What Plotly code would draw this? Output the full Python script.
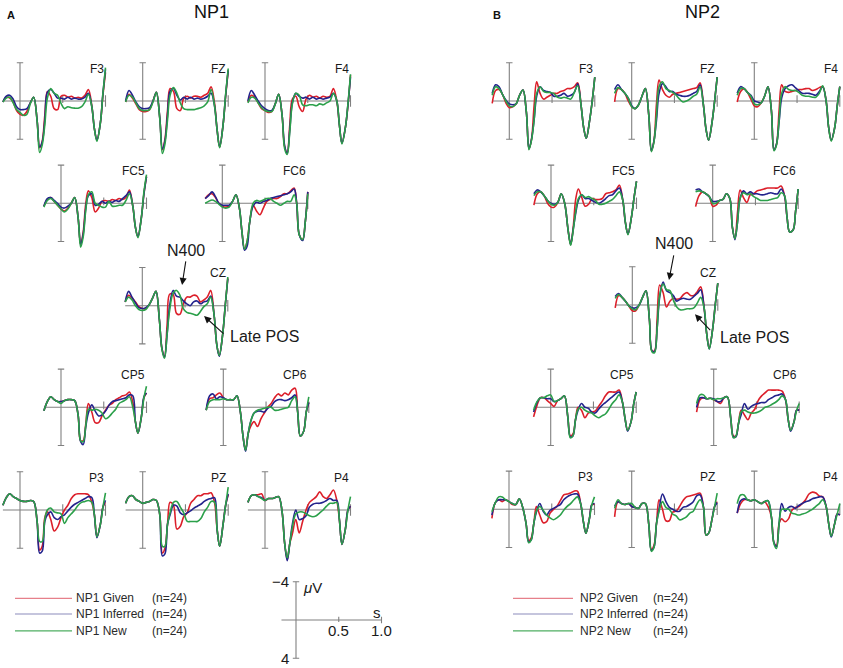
import plotly.graph_objects as go

W, H = 843, 668
KX = 85.5   # px per second
KY = 9.55   # px per microvolt

# sample times (s)
time_s = [-0.2, -0.16, -0.12, -0.08, -0.04, 0.0, 0.04, 0.08, 0.12, 0.16, 0.2, 0.23, 0.26, 0.29, 0.32,
          0.36, 0.4, 0.44, 0.48, 0.52, 0.56, 0.6, 0.64, 0.68, 0.72, 0.76, 0.8, 0.84, 0.87, 0.9, 0.94, 0.97, 1.0]

electrodes = ["F3", "FZ", "F4", "FC5", "FC6", "CZ", "CP5", "CP6", "P3", "PZ", "P4"]
conditions = ["Given", "Inferred", "New"]

# ---- NP1 (microvolts, negative up) ----
np1_f3_given = [0.1,-0.4,-0.3,0.1,1.0, 1.4,1.5,1.1,0.2,-0.4, 2.0,4.9,4.2,1.5,-1.0, -0.5,0.8,0.9,-0.5,-0.6, -0.4,-0.5,-0.3,-0.4,-0.3, -0.6,-1.2,0.5,2.9,4.1, 2.3,-0.6,-3.0]
np1_f3_inferred = [0.1,-0.5,-0.6,-0.2,0.6, 0.9,0.9,0.8,0.2,-0.4, 2.0,4.8,4.3,2.0,-0.9, -1.2,-0.8,-0.3,-0.3,-0.2, -0.4,-0.2,-0.3,-0.2,-0.2, -0.4,-0.8,0.6,2.9,4.1, 2.3,-0.8,-3.3]
np1_f3_new = [0.1,-0.3,-0.4,0.2,0.9, 1.2,1.5,1.4,0.3,-0.4, 2.1,5.4,4.6,2.5,-0.3, -1.3,-0.8,-0.6,0.25,0.8, 0.6,0.7,0.75,0.75,0.6, 0.1,-0.7,0.6,2.9,4.2, 2.3,-0.8,-3.5]

np1_fz_given = [0.1,-0.7,-0.3,0.3,0.9, 1.1,1.1,0.9,0.0,-0.9, 1.8,5.1,4.0,1.0,-1.3, -1.0,0.8,1.0,-0.3,-0.5, -0.3,-0.5,-0.5,-0.4,-0.6, -0.8,-1.5,0.2,3.0,4.8, 2.5,-0.5,-3.2]
np1_fz_inferred = [0.0,-1.1,-0.6,0.1,0.6, 0.8,0.8,0.7,0.0,-0.9, 1.8,5.0,4.2,1.5,-1.0, -1.3,-0.6,-0.1,-0.4,-0.2, -0.4,-0.2,-0.3,-0.2,-0.3, -0.5,-0.8,0.5,3.0,4.8, 2.5,-0.6,-3.2]
np1_fz_new = [0.1,-0.6,-0.4,0.2,0.8, 1.0,1.0,0.9,0.1,-0.9, 1.9,5.5,4.5,2.0,-0.6, -1.4,-0.8,0.2,0.8,0.9, 0.9,0.9,0.8,0.7,0.5, 0.1,-1.2,0.5,3.0,4.9, 2.5,-0.7,-3.4]

np1_f4_given = [0.1,-0.6,-0.4,0.2,0.8, 1.0,1.2,1.1,0.3,-0.7, 1.5,4.8,5.4,2.5,-0.2, -0.5,0.6,1.1,-0.2,-0.6, -0.4,-0.5,-0.3,-0.5,-0.4, -0.5,-1.3,0.0,2.5,4.4, 2.8,0.5,-2.7]
np1_f4_inferred = [0.0,-1.1,-0.6,0.0,0.5, 0.8,1.0,1.0,0.3,-0.7, 1.5,4.7,5.5,3.0,0.2, -0.8,-0.5,-0.3,-0.4,-0.2, -0.4,-0.2,-0.3,-0.2,-0.3, -0.4,-0.8,0.0,2.5,4.4, 2.8,0.4,-2.5]
np1_f4_new = [0.2,-0.4,-0.3,0.2,0.7, 1.0,1.1,1.1,0.3,-0.7, 1.5,5.0,5.6,3.2,0.3, -0.8,-0.6,0.4,0.5,0.4, 0.4,0.5,0.3,0.4,0.2, 0.0,-0.8,0.0,2.5,4.5, 2.8,0.3,-2.8]

np1_fc5_given = [0.3,-0.4,-0.6,-0.2,0.2, 0.6,0.8,0.5,0.0,-0.6, 1.5,4.3,3.0,0.0,-1.3, -0.6,0.9,0.5,-0.2,-0.3, -0.2,-0.4,-0.3,-0.5,-0.4, -0.6,-1.4,0.3,2.5,3.5, 1.5,-1.0,-2.8]
np1_fc5_inferred = [0.3,-0.5,-0.6,-0.3,0.0, 0.4,0.5,0.3,0.0,-0.6, 1.5,4.3,3.2,0.5,-0.8, -1.0,0.2,0.1,-0.2,0.0, -0.2,-0.1,-0.3,-0.2,-0.5, -0.8,-1.2,0.3,2.5,3.5, 1.5,-1.0,-2.8]
np1_fc5_new = [0.4,-0.3,-0.5,-0.2,0.2, 0.6,0.9,0.6,0.0,-0.6, 1.5,4.6,3.5,0.7,-0.9, -1.2,0.0,0.2,0.4,0.4, -0.2,0.3,0.3,0.2,0.2, -0.3,-1.0,0.3,2.5,3.6, 1.5,-1.2,-3.0]

np1_fc6_given = [-0.5,-0.9,-1.0,-0.6,0.0, 0.3,0.4,0.3,-0.2,-0.9, 0.5,3.0,4.8,4.0,2.0, 0.2,0.8,1.2,0.5,-0.2, -0.4,-0.5,-0.5,-0.7,-1.0, -1.0,-1.3,-1.6,0.0,3.3, 3.8,2.0,-1.2]
np1_fc6_inferred = [-0.5,-0.8,-1.2,-0.7,0.0, 0.2,0.2,0.2,-0.2,-0.9, 0.5,3.0,4.9,4.5,2.0, 0.3,-0.1,0.0,-0.2,-0.3, -0.5,-0.6,-0.7,-0.8,-0.9, -1.0,-1.2,-1.5,0.0,3.3, 3.9,2.0,-1.2]
np1_fc6_new = [0.0,-0.2,-0.35,-0.2,0.1, 0.4,0.5,0.4,-0.2,-0.9, 0.5,3.0,4.8,4.0,2.0, 0.0,-0.3,-0.2,-0.35,-0.5, -0.5,-0.2,0.0,0.2,0.0, -0.2,-0.2,-0.9,0.0,3.3, 3.8,2.0,-1.0]

np1_cz_given = [-0.4,-1.1,-0.8,-0.4,0.1, 0.3,0.3,-0.1,-0.8,-1.5, 1.5,4.5,5.3,2.0,-1.2, -1.2,0.8,0.9,-0.2,-0.9, -0.9,-1.1,-1.0,-0.4,-0.6, -0.9,-1.6,1.0,4.0,5.2, 3.0,0.0,-2.9]
np1_cz_inferred = [-0.4,-1.5,-0.9,-0.3,0.2, 0.3,0.2,-0.1,-0.8,-1.5, 1.5,4.5,5.4,3.0,0.0, -1.6,-1.0,-0.9,-0.5,-0.2, 0.0,-0.4,-0.5,-0.2,-0.4, -0.5,-1.0,1.0,4.0,5.3, 3.0,0.0,-2.8]
np1_cz_new = [-0.4,-0.9,-0.6,0.0,0.4, 0.5,0.4,-0.1,-0.8,-1.5, 1.5,4.6,5.5,3.0,0.5, -1.3,-1.6,-1.1,0.3,0.7, 0.8,0.9,1.0,0.6,0.1, -0.2,-0.9,1.0,4.0,5.2, 3.0,0.0,-3.0]

np1_cp5_given = [0.35,-0.6,-1.1,-0.8,-0.6, -0.6,-0.7,-0.8,-0.8,-0.7, 0.8,3.5,3.5,1.7,-0.4, 0.5,1.6,1.6,0.9,0.3, -0.2,-0.4,-0.8,-1.0,-1.2, -1.3,-1.6,-0.5,1.5,2.7, 1.0,-1.0,-1.5]
np1_cp5_inferred = [0.35,-0.6,-1.1,-0.8,-0.6, -0.6,-0.7,-0.8,-0.8,-0.7, 0.8,3.6,3.9,2.0,0.6, -0.25,0.4,0.9,0.8,0.4, -0.2,-0.6,-0.7,-0.8,-0.9, -1.0,-1.3,-1.2,1.5,2.7, 1.0,-1.1,-1.5]
np1_cp5_new = [0.35,-0.6,-1.1,-0.8,-0.6, -0.4,-0.7,-0.8,-0.8,-0.7, 0.8,3.5,3.6,1.9,0.2, 0.3,0.2,0.3,0.6,1.2, 1.0,0.6,0.2,-0.4,-0.6, -0.8,-1.1,0.0,1.5,2.7, 1.0,-1.0,-2.2]

np1_cp6_given = [0.3,-0.9,-1.0,-1.3,-1.5, -1.0,-0.8,-0.8,-0.8,-1.2, 0.5,3.0,4.5,2.8,2.0, 1.5,2.0,1.2,0.6,0.0, -0.4,-1.0,-1.4,-1.2,-1.5, -1.3,-1.8,-2.0,0.5,3.0, 2.5,0.5,-0.5]
np1_cp6_inferred = [0.3,-1.2,-1.4,-0.9,-1.1, -1.0,-0.8,-0.8,-0.8,-1.2, 0.5,3.0,4.6,2.8,1.5, 0.6,0.4,0.4,0.5,0.1, -0.1,-0.6,-0.8,-0.8,-0.7, -0.8,-1.0,-1.3,0.5,3.0, 2.5,0.5,-0.5]
np1_cp6_new = [0.3,-0.6,-0.8,-0.8,-0.8, -0.9,-0.8,-0.8,-0.8,-1.2, 0.5,3.0,4.5,2.8,1.5, 0.6,0.3,0.2,0.1,0.0, 0.0,0.3,0.3,0.2,0.1, 0.0,-0.7,-1.1,0.5,3.0, 2.5,0.5,-1.1]

np1_p3_given = [-0.5,-1.3,-1.7,-1.4,-1.2, -1.0,-0.9,-0.9,-1.0,-0.9, 1.2,4.2,3.8,0.8,0.2, 1.0,2.2,1.8,0.8,0.0, -0.5,-1.2,-1.6,-1.7,-1.7, -1.7,-1.6,-0.8,0.5,2.8, 1.5,-0.3,-0.8]
np1_p3_inferred = [-0.5,-1.3,-1.7,-1.4,-1.2, -1.0,-0.9,-0.9,-1.0,-0.9, 1.2,4.5,4.3,1.2,0.5, 0.2,0.8,1.0,0.7,0.5, 0.1,-0.3,-0.6,-0.8,-1.0, -1.2,-1.4,-1.3,0.5,2.9, 1.5,-0.3,-1.0]
np1_p3_new = [-0.5,-1.3,-1.7,-1.4,-1.2, -1.0,-0.9,-0.9,-1.0,-0.9, 1.2,3.3,3.3,1.0,0.0, -0.2,0.2,0.3,0.4,1.4, 0.8,0.4,0.0,-0.5,-0.8, -0.9,-1.0,-0.8,0.5,2.8, 1.5,-0.3,-1.8]

np1_pz_given = [-0.7,-1.4,-1.5,-1.1,-0.9, -0.7,-0.8,-0.9,-1.1,-1.0, 0.5,4.5,4.0,1.5,-0.8, -0.5,2.0,1.7,0.7,0.3, -0.7,-1.1,-1.5,-1.5,-1.7, -1.7,-1.8,-0.8,2.0,3.8, 1.5,-0.5,-1.6]
np1_pz_inferred = [-0.7,-1.4,-1.5,-1.1,-0.9, -0.7,-0.8,-0.9,-1.1,-1.0, 0.5,4.8,4.6,1.5,0.5, -0.5,-0.4,0.3,0.5,0.3, 0.1,-0.2,-0.4,-0.6,-0.9, -1.1,-1.2,-1.3,2.0,3.8, 1.5,-0.5,-1.7]
np1_pz_new = [-0.7,-1.4,-1.5,-1.1,-0.9, -0.7,-0.8,-0.9,-1.1,-1.0, 0.5,3.8,3.8,1.5,0.3, -0.8,-0.9,-0.3,0.3,1.2, 1.2,1.2,1.2,0.9,0.2, -0.3,-0.9,-0.8,2.0,3.8, 1.5,-0.5,-2.4]

np1_p4_given = [-0.8,-1.5,-1.6,-1.6,-1.7, -1.0,-1.2,-1.2,-1.3,-1.4, 0.2,3.5,5.2,3.5,2.5, 1.0,2.4,1.2,0.0,-0.8, -1.1,-1.4,-1.9,-1.4,-1.2, -1.6,-2.1,-1.0,1.0,3.6, 2.0,0.0,-0.4]
np1_p4_inferred = [-0.8,-1.5,-1.6,-1.4,-1.3, -1.0,-1.2,-1.2,-1.3,-1.4, 0.2,3.5,5.3,3.5,1.5, 0.0,1.0,0.9,0.6,-0.3, -0.6,-0.7,-0.7,-0.8,-1.0, -1.2,-1.0,-1.0,1.0,3.6, 2.0,0.0,-0.4]
np1_p4_new = [-0.8,-1.5,-1.6,-1.4,-1.2, -1.0,-1.2,-1.2,-1.3,-1.4, 0.2,3.5,5.0,3.5,1.8, 0.4,0.2,0.2,0.4,0.6, 0.7,0.6,0.3,0.0,-0.4, -0.7,-0.7,-0.8,1.0,3.6, 2.0,0.0,-1.4]

# ---- NP2 ----
np2_f3_given = [0.25,-1.1,-1.2,-0.7,0.2, 0.7,0.6,0.3,-0.6,-1.15, 1.2,5.0,4.0,0.5,-2.0, -0.8,-0.2,-0.4,-0.6,-0.8, -0.8,-1.0,-1.1,-1.3,-1.3, -1.5,-1.9,0.5,2.8,3.9, 2.0,0.0,-2.5]
np2_f3_inferred = [-0.8,-1.7,-1.5,-0.7,-0.1, 0.3,0.4,0.3,-0.6,-1.15, 1.2,5.0,4.0,2.0,-0.5, -1.5,-1.1,-1.0,-0.9,-0.5, -0.5,-0.6,-0.8,-0.5,-0.6, -0.9,-1.8,0.5,2.8,3.9, 2.0,0.0,-2.5]
np2_f3_new = [-0.6,-1.5,-1.3,-0.7,0.0, 0.5,0.6,0.3,-0.6,-1.15, 1.2,5.1,4.1,2.0,-0.8, -1.5,-1.0,-0.9,-0.9,-0.8, -0.4,-0.3,-0.4,-0.3,-0.2, -0.9,-1.6,0.5,2.8,3.9, 2.0,0.0,-2.5]

np2_fz_given = [0.1,-1.3,-1.2,-0.8,0.0, 0.6,0.8,0.4,-0.5,-1.3, 1.5,5.2,4.2,0.3,-2.2, -1.2,-0.6,-0.4,-0.7,-0.8, -0.9,-1.0,-1.1,-1.2,-1.3, -1.4,-1.9,0.5,3.0,4.1, 2.2,0.0,-2.5]
np2_fz_inferred = [-1.2,-1.7,-1.2,-0.8,-0.3, 0.5,0.8,0.4,-0.5,-1.3, 1.5,5.2,4.2,2.0,-0.8, -1.8,-1.5,-1.0,-1.0,-0.7, -0.6,-0.5,-0.5,-0.6,-0.8, -1.0,-1.7,0.5,3.0,4.1, 2.2,0.0,-2.5]
np2_fz_new = [-0.8,-1.4,-1.2,-0.8,-0.3, 0.6,0.8,0.4,-0.5,-1.3, 1.5,5.3,4.3,1.5,-1.5, -2.0,-1.3,-1.1,-0.9,-0.6, -0.2,0.1,0.0,-0.2,-0.5, -0.7,-1.5,0.5,3.0,4.1, 2.2,0.0,-2.5]

np2_f4_given = [0.1,-1.0,-1.3,-0.9,-0.2, 0.5,0.6,0.2,-0.5,-1.5, 1.0,5.1,4.5,1.0,-1.7, -1.0,-0.9,-1.0,-1.1,-1.2, -1.2,-1.3,-1.3,-1.1,-1.2, -1.4,-1.5,0.0,2.8,4.1, 2.8,0.5,-1.5]
np2_f4_inferred = [-0.8,-1.5,-1.3,-0.9,-0.6, 0.0,0.1,0.2,-0.5,-1.5, 1.0,5.1,4.5,2.2,-0.3, -1.3,-1.6,-1.7,-1.4,-1.1, -0.8,-0.8,-0.8,-0.7,-0.6, -1.0,-1.5,0.0,2.8,4.1, 2.8,0.5,-1.5]
np2_f4_new = [-0.6,-1.3,-1.3,-0.9,-0.5, 0.3,0.4,0.2,-0.5,-1.5, 1.0,5.2,4.6,2.0,-0.8, -1.5,-1.2,-1.1,-1.1,-0.9, -0.6,-0.5,-0.5,-0.4,-0.4, -0.8,-1.6,0.0,2.8,4.2, 2.8,0.5,-1.5]

np2_fc5_given = [0.2,-1.0,-1.2,-0.8,0.0, 0.4,0.4,-0.1,-1.0,0.0, 2.8,4.3,2.5,-0.5,-1.5, -0.6,0.3,0.1,-0.5,-0.4, -0.4,-0.5,-1.0,-1.1,-1.2, -1.4,-1.9,-0.3,2.0,3.2, 1.5,-0.5,-2.3]
np2_fc5_inferred = [-1.0,-1.4,-1.2,-0.8,-0.3, 0.0,0.1,-0.1,-1.0,0.0, 2.8,4.3,2.7,1.0,-0.3, -0.9,-0.5,-0.5,-0.3,-0.1, 0.0,-0.2,-0.5,-0.8,-0.9, -1.3,-1.6,-0.3,2.0,3.2, 1.5,-0.5,-2.3]
np2_fc5_new = [-0.8,-1.2,-1.2,-0.8,-0.3, 0.1,0.2,-0.1,-1.0,0.0, 2.8,4.4,2.8,0.8,-0.5, -0.9,-0.6,-0.7,-0.5,-0.3, 0.1,0.1,0.0,-0.2,-0.4, -0.8,-1.2,-0.3,2.0,3.3, 1.5,-0.5,-2.3]

np2_fc6_given = [0.35,-0.8,-1.2,-1.0,-0.7, 0.3,0.2,-0.3,-0.4,-1.0, -0.5,2.5,3.7,1.0,-1.4, -0.6,-0.1,-0.9,-1.0,-1.3, -1.4,-1.5,-1.6,-1.6,-1.6, -1.6,-1.8,-0.8,1.5,3.0, 2.8,0.8,-1.5]
np2_fc6_inferred = [-1.4,-1.5,-1.2,-1.0,-0.7, -0.2,-0.2,-0.3,-0.4,-1.0, -0.5,2.5,3.8,2.0,-0.5, -1.3,-1.0,-1.2,-1.0,-1.0, -0.9,-0.9,-1.0,-1.1,-1.0, -1.0,-1.5,-0.8,1.5,3.0, 2.8,0.8,-1.5]
np2_fc6_new = [-1.2,-1.3,-1.2,-1.0,-0.7, 0.0,0.0,-0.3,-0.4,-1.0, -0.5,2.5,3.7,2.0,-0.5, -1.1,-0.9,-1.0,-0.7,-0.5, -0.3,-0.3,-0.3,-0.4,-0.5, -0.6,-1.1,-0.8,1.5,3.0, 2.8,0.8,-1.5]

np2_cz_given = [0.3,-1.0,-0.8,-0.4,0.1, 0.6,0.6,0.0,-0.8,-1.5, 1.5,4.8,4.8,1.5,-2.1, -1.3,0.2,-0.4,-0.7,-0.6, -0.7,-1.1,-1.3,-1.0,-1.0, -1.4,-1.9,0.3,3.0,4.5, 2.5,0.0,-2.3]
np2_cz_inferred = [-0.9,-1.2,-0.8,-0.4,0.1, 0.3,0.3,0.0,-0.8,-1.5, 1.5,4.8,4.9,2.5,-0.8, -2.4,-1.5,-1.3,-1.0,-0.4, -0.6,-0.7,-0.6,-0.6,-0.9, -1.2,-1.6,0.3,3.0,4.6, 2.5,0.0,-2.3]
np2_cz_new = [-0.7,-1.1,-0.8,-0.4,0.1, 0.4,0.5,0.0,-0.8,-1.5, 1.5,4.9,5.0,2.5,-1.0, -2.2,-1.6,-1.5,-0.5,0.2, 0.5,0.5,0.4,0.4,0.3, -0.2,-0.8,0.3,3.0,4.6, 2.5,0.0,-2.3]

np2_cp5_given = [1.0,-0.2,-1.0,-1.0,-0.7, -0.4,-0.1,-0.7,-0.9,-1.2, 1.0,3.0,2.8,1.3,0.0, 0.3,1.1,0.6,0.5,0.4, -0.1,-0.6,-1.2,-1.6,-1.6, -1.6,-1.8,-0.5,1.2,2.4, 1.5,-0.3,-1.6]
np2_cp5_inferred = [0.5,-0.5,-1.0,-1.0,-0.9, -0.9,-0.6,-0.7,-0.9,-1.2, 1.0,3.1,3.0,1.3,0.3, -0.4,0.0,0.1,0.5,0.6, 0.2,-0.2,-0.5,-0.8,-1.1, -1.4,-1.6,-0.5,1.2,2.5, 1.5,-0.3,-1.6]
np2_cp5_new = [0.3,-0.6,-1.0,-1.0,-1.2, -1.3,-0.6,-0.7,-0.9,-1.2, 1.0,3.2,3.0,1.3,0.2, 0.0,0.3,0.5,0.6,0.9, 1.1,0.9,0.7,0.2,-0.4, -0.8,-1.3,-0.5,1.2,2.4, 1.5,-0.3,-1.6]

np2_cp6_given = [0.5,-0.8,-1.0,-0.9,-0.95, -0.8,-0.6,-0.4,-1.0,-1.1, 1.2,3.0,3.0,1.7,0.3, 0.8,1.3,0.6,0.2,-0.7, -1.2,-1.5,-1.8,-1.8,-1.8, -1.8,-1.7,-0.8,1.2,2.4, 1.5,0.3,0.3]
np2_cp6_inferred = [0.0,-1.0,-1.0,-0.9,-0.95, -0.9,-0.6,-0.6,-1.0,-1.1, 1.2,3.1,3.1,1.7,0.8, -0.4,0.2,-0.1,-0.3,-0.4, -0.5,-0.5,-0.8,-1.0,-1.2, -1.3,-1.4,-0.8,1.2,2.5, 1.5,0.3,0.3]
np2_cp6_new = [-0.4,-1.3,-1.3,-0.9,-0.95, -0.8,-0.9,-0.9,-1.0,-1.1, 1.2,3.2,3.0,1.7,0.5, 0.3,0.5,0.6,0.6,0.5, 0.3,0.0,-0.1,-0.3,-0.5, -0.8,-1.2,-0.8,1.2,2.4, 1.5,0.3,-0.4]

np2_p3_given = [0.95,-0.7,-1.0,-0.8,-1.0, -0.8,-0.5,-0.5,-1.1,-0.2, 1.5,3.3,3.0,1.5,-0.3, 0.6,1.4,1.3,0.4,0.0, -0.3,-0.9,-1.5,-1.6,-1.7, -1.9,-1.9,-0.5,1.3,2.5, 1.0,-0.5,-0.5]
np2_p3_inferred = [0.6,-0.7,-1.0,-1.0,-1.0, -0.8,-0.6,-0.5,-1.1,-0.2, 1.5,3.4,3.2,1.5,0.3, -0.6,0.2,0.6,0.1,-0.1, -0.3,-0.5,-1.0,-1.3,-1.5, -1.6,-1.6,-0.5,1.3,2.5, 1.0,-0.5,-0.6]
np2_p3_new = [0.25,-0.7,-1.3,-1.3,-1.0, -0.8,-0.6,-0.5,-1.1,-0.2, 1.5,3.5,3.2,1.5,0.2, -0.3,0.1,0.6,0.9,1.1, 0.9,0.6,0.1,-0.3,-0.6, -1.0,-1.3,-0.5,1.3,2.5, 1.0,-0.5,-1.3]

np2_pz_given = [0.8,-0.8,-0.6,-0.5,-0.6, -0.3,-0.2,-0.1,-0.6,-0.6, 1.6,4.2,3.8,1.5,-1.0, 0.0,1.2,1.2,0.3,0.2, -0.3,-0.9,-1.3,-1.4,-1.5, -1.6,-1.7,-0.2,2.7,2.5, 1.0,-0.3,-0.8]
np2_pz_inferred = [-0.3,-0.8,-0.6,-0.5,-0.6, -0.3,-0.2,-0.1,-0.6,-0.6, 1.6,4.3,4.0,1.5,0.0, -1.6,-0.8,-0.2,0.0,0.2, 0.2,-0.2,-0.3,-0.5,-0.8, -1.4,-1.5,-0.2,2.7,2.5, 1.0,-0.3,-0.7]
np2_pz_new = [-0.1,-1.0,-0.6,-0.5,-0.6, -0.6,-0.2,-0.1,-0.6,-0.6, 1.6,4.4,4.0,1.5,0.2, -0.8,-0.2,0.0,0.5,0.7, 1.1,1.0,0.8,0.4,0.2, -0.5,-1.0,-0.2,2.7,2.5, 1.0,-0.3,-1.7]

np2_p4_given = [0.4,-0.6,-1.0,-1.0,-0.9, -1.0,-0.8,-0.6,-0.8,-0.3, 0.8,3.5,3.8,1.5,1.0, 1.3,1.0,0.1,-0.2,-0.3, -0.6,-1.0,-1.6,-1.8,-1.7, -1.4,-1.3,-0.3,1.5,2.8, 1.5,0.5,0.6]
np2_p4_inferred = [0.4,-0.9,-1.1,-1.0,-0.9, -1.0,-0.8,-0.6,-0.8,-0.9, 0.8,3.5,3.9,1.5,-0.6, 0.2,-0.2,-0.3,-0.1,-0.4, -0.6,-0.8,-0.9,-1.1,-1.2, -1.3,-1.3,-0.3,1.5,2.9, 1.5,0.5,0.6]
np2_p4_new = [-0.6,-1.5,-1.5,-1.0,-0.9, -1.0,-0.8,-0.6,-0.8,-0.9, 0.8,3.6,4.1,1.5,0.0, 0.0,0.0,0.4,0.5,0.6, 0.5,0.4,0.2,0.0,-0.3, -0.6,-1.0,-0.3,1.5,2.8, 1.5,0.5,-0.6]

n_subjects = 24

waves = {}
for np_name in ["np1", "np2"]:
    for el in electrodes:
        waves[(np_name.upper(), el)] = [globals()[f"{np_name}_{el.lower()}_{c.lower()}"] for c in conditions]

# pixel anchor (t=0, 0 µV) of every small plot
anchors = {
    "NP1": {"F3": (20, 101), "FZ": (142.7, 101), "F4": (265, 101),
            "FC5": (61, 203.3), "FC6": (222.3, 203.3), "CZ": (142.3, 305.7),
            "CP5": (61, 407.3), "CP6": (223.3, 407.3),
            "P3": (20, 510), "PZ": (142.7, 510), "P4": (265, 510)},
    "NP2": {"F3": (509.3, 101), "FZ": (631.7, 101), "F4": (754.3, 101),
            "FC5": (551, 203.3), "FC6": (712.7, 203.3), "CZ": (632.3, 305),
            "CP5": (550.7, 407.3), "CP6": (713.7, 407.3),
            "P3": (509, 509.3), "PZ": (631.7, 509.3), "P4": (754.3, 509.3)},
}

colors = ["#dc1f2a", "#23238c", "#2ba04a"]
legend_colors = ["#e6808a", "#8c8cbc", "#4fae62"]
axis_color = "#808080"
font_family = "Liberation Sans, Arial, sans-serif"

fig = go.Figure()
layout = {}
shapes = []
annotations = []


def px(p):
    return p / W


def py(p):
    return 1 - p / H


def ref(n):
    return ("x", "y") if n == 1 else (f"x{n}", f"y{n}")


def add_axes(n, x0, y0, xr=(-0.22, 1.06), yr=(6.5, -7.0)):
    left = max(0.0, x0 + xr[0] * KX)
    right = min(W, x0 + xr[1] * KX)
    top = max(0.0, y0 + yr[1] * KY)
    bottom = min(H, y0 + yr[0] * KY)
    xn = "xaxis" if n == 1 else f"xaxis{n}"
    yn = "yaxis" if n == 1 else f"yaxis{n}"
    xr_, yr_ = ref(n)
    layout[xn] = dict(domain=[left / W, right / W], range=[(left - x0) / KX, (right - x0) / KX],
                      visible=False, fixedrange=True, anchor=yr_)
    layout[yn] = dict(domain=[1 - bottom / H, 1 - top / H], range=[(bottom - y0) / KY, (top - y0) / KY],
                      visible=False, fixedrange=True, anchor=xr_)


def seg(n, xa, xb, ya, yb, color=axis_color, width=1.1):
    xr_, yr_ = ref(n)
    shapes.append(dict(type="line", xref=xr_, yref=yr_, x0=xa, x1=xb, y0=ya, y1=yb,
                       line=dict(color=color, width=width), layer="below"))


cap = 3.2 / KX
n = 0
for np_name in ["NP1", "NP2"]:
    for el in electrodes:
        n += 1
        x0, y0 = anchors[np_name][el]
        add_axes(n, x0, y0)
        xr_, yr_ = ref(n)
        # axis cross
        seg(n, 0, 0, -4, 4)
        seg(n, -cap, cap, -4, -4)
        seg(n, -cap, cap, 4, 4)
        seg(n, -0.2, 1.0, 0, 0)
        seg(n, 0.5, 0.5, -0.6, 0.2)
        seg(n, 1.0, 1.0, -0.6, 0.6)
        for vals, c, cond in zip(waves[(np_name, el)], colors, conditions):
            fig.add_trace(go.Scatter(x=time_s, y=vals, xaxis=xr_, yaxis=yr_, mode="lines",
                                     line=dict(color=c, width=1.6, shape="spline", smoothing=1.0),
                                     name=f"{np_name} {cond}", showlegend=False, hoverinfo="skip"))
        annotations.append(dict(xref=xr_, yref=yr_, x=1.0, y=-3.4, text=el, showarrow=False,
                                xanchor="right", yanchor="middle",
                                font=dict(size=12, color="#1a1a1a", family=font_family)))
        if el == "CZ":
            if np_name == "NP1":
                tip1, tail1, txt1 = (0.465, -2.16), (0.511, -4.79), (0.511, -5.73)
                tip2, tail2, txt2 = (0.722, 1.08), (0.967, 3.07), (1.0, 3.25)
            else:
                tip1, tail1, txt1 = (0.429, -2.62), (0.488, -5.36), (0.488, -6.39)
                tip2, tail2, txt2 = (0.733, 0.97), (0.928, 2.8), (1.003, 3.4)
            for tip, tail in [(tip1, tail1), (tip2, tail2)]:
                annotations.append(dict(xref=xr_, yref=yr_, axref=xr_, ayref=yr_,
                                        x=tip[0], y=tip[1], ax=tail[0], ay=tail[1], text="",
                                        showarrow=True, arrowhead=2, arrowsize=1.3,
                                        arrowwidth=1.1, arrowcolor="#111111"))
            annotations.append(dict(xref=xr_, yref=yr_, x=txt1[0], y=txt1[1], text="N400",
                                    showarrow=False, xanchor="center", yanchor="middle",
                                    font=dict(size=16, color="#1a1a1a", family=font_family)))
            annotations.append(dict(xref=xr_, yref=yr_, x=txt2[0], y=txt2[1], text="Late POS",
                                    showarrow=False, xanchor="left", yanchor="middle",
                                    font=dict(size=16, color="#1a1a1a", family=font_family)))

# calibration (scale) axes
n += 1
add_axes(n, 296, 620, xr=(-0.4, 1.25), yr=(5.5, -5.5))
xr_, yr_ = ref(n)
seg(n, 0, 0, -4, 4)
seg(n, -cap, cap, -4, -4)
seg(n, -cap, cap, 4, 4)
seg(n, -0.17, 1.0, 0, 0)
seg(n, 0.5, 0.5, -0.35, 0.2)
seg(n, 1.0, 1.0, -0.35, 0.35)
fig.add_trace(go.Scatter(x=[0], y=[0], xaxis=xr_, yaxis=yr_, mode="markers",
                         marker=dict(size=1, opacity=0), showlegend=False, hoverinfo="skip"))
scale_font = dict(size=15, color="#1a1a1a", family=font_family)
for x, y, t, xa in [(-0.06, -4, "\u22124", "right"), (-0.06, 4, "4", "right"),
                    (0.06, -3.4, "<i>\u03bc</i>V", "left"), (0.95, -0.8, "s", "center"),
                    (0.5, 1.15, "0.5", "center"), (1.0, 1.15, "1.0", "center")]:
    annotations.append(dict(xref=xr_, yref=yr_, x=x, y=y, text=t, showarrow=False,
                            xanchor=xa, yanchor="middle", font=scale_font))

# legends (one per half)
legend_geom = {"NP1": (15, 72, 73.5, 150), "NP2": (513, 573, 578, 651)}
legend_rows = [598.3, 614, 630.8]
legend_font = dict(size=12, color="#2a2a2a", family=font_family)
for np_name, (lx0, lx1, tx, nx) in legend_geom.items():
    for cond, lc, ly in zip(conditions, legend_colors, legend_rows):
        shapes.append(dict(type="line", xref="paper", yref="paper", x0=px(lx0), x1=px(lx1),
                           y0=py(ly), y1=py(ly), line=dict(color=lc, width=1.2)))
        annotations.append(dict(xref="paper", yref="paper", x=px(tx), y=py(ly),
                                text=f"{np_name} {cond}", showarrow=False, xanchor="left",
                                yanchor="middle", font=legend_font))
        annotations.append(dict(xref="paper", yref="paper", x=px(nx), y=py(ly),
                                text=f"(n={n_subjects})", showarrow=False, xanchor="left",
                                yanchor="middle", font=legend_font))

# panel titles and letters
for txt, tx, ty, size, bold in [("A", 11, 15.3, 11, True), ("NP1", 211.5, 11.7, 18, False),
                                ("B", 497, 15.3, 11, True), ("NP2", 702, 11.7, 18, False)]:
    annotations.append(dict(xref="paper", yref="paper", x=px(tx), y=py(ty),
                            text=f"<b>{txt}</b>" if bold else txt, showarrow=False,
                            xanchor="center", yanchor="middle",
                            font=dict(size=size, color="#111111", family=font_family)))

fig.update_layout(**layout)
fig.update_layout(width=W, height=H, margin=dict(l=0, r=0, t=0, b=0),
                  paper_bgcolor="white", plot_bgcolor="rgba(0,0,0,0)",
                  showlegend=False, shapes=shapes, annotations=annotations)

# the page body has a default 8 px margin; drop it so the figure fills the window
fig.write_html("out.html", config={"displayModeBar": False},
               post_script="document.body.style.margin='0px';"
                           "document.body.style.overflow='hidden';")
